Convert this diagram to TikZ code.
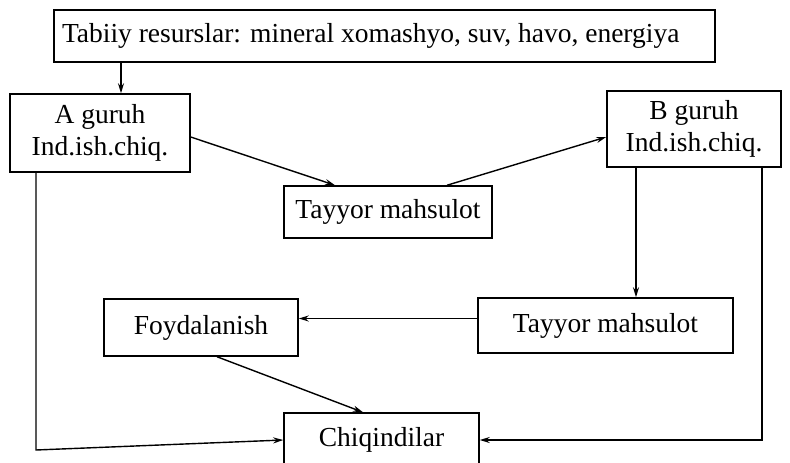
\documentclass[tikz,border=0pt]{standalone}
\usepackage{fontspec}
\setmainfont{Liberation Serif}
\usetikzlibrary{arrows.meta,calc}
\begin{document}
\begin{tikzpicture}[x=1pt,y=-1pt,
  box/.style={draw,line width=1.5pt,inner sep=0pt,font=\fontsize{27.5}{32}\selectfont,align=center},
  arr/.style={line width=1.4pt,-{Stealth[length=10pt,width=6pt]}},
  ln/.style={line width=1.4pt}]
\useasboundingbox (0,0) rectangle (790,463);
\node[box,align=flush left,text width=645pt,inner xsep=8pt,minimum height=52pt] (top) at (384.5,36) {Tabiiy resurslar: mineral xomashyo, suv, havo, energiya};
\node[box,minimum width=180pt,minimum height=78pt] (A) at (100,133) {A guruh\\Ind.ish.chiq.};
\node[box,minimum width=208pt,minimum height=52pt] (T1) at (388,212) {Tayyor mahsulot};
\node[box,minimum width=174pt,minimum height=76pt] (B) at (694,129) {B guruh\\Ind.ish.chiq.};
\node[box,minimum width=255pt,minimum height=55pt] (T2) at (605.5,325.5) {Tayyor mahsulot};
\node[box,minimum width=194pt,minimum height=57pt] (F) at (201,327.5) {Foydalanish};
\node[box,minimum width=195pt,minimum height=54pt] (C) at (381.5,440) {Chiqindilar};
\coordinate (aL) at (36,450);
\draw[arr] ([xshift=21pt]A.north |- top.south) -- ([xshift=21pt]A.north);
\draw[arr] ([yshift=-4pt]A.east) -- ([xshift=-53pt]T1.north);
\draw[arr] ([xshift=59pt]T1.north) -- ([yshift=-8pt]B.west);
\draw[arr] ([xshift=-58pt]B.south) -- ([xshift=-58pt]B.south |- T2.north);
\draw[arr] ([yshift=7pt]T2.west) -- ([yshift=7pt]T2.west -| F.east);
\draw[arr] ([xshift=16pt]F.south) -- ([xshift=-18.5pt]C.north);
\draw[arr] ([xshift=68pt]B.south) |- (C.east);
\draw[arr] ([xshift=-64pt]A.south) -- (aL) -- (C.west);
\end{tikzpicture}
\end{document}
